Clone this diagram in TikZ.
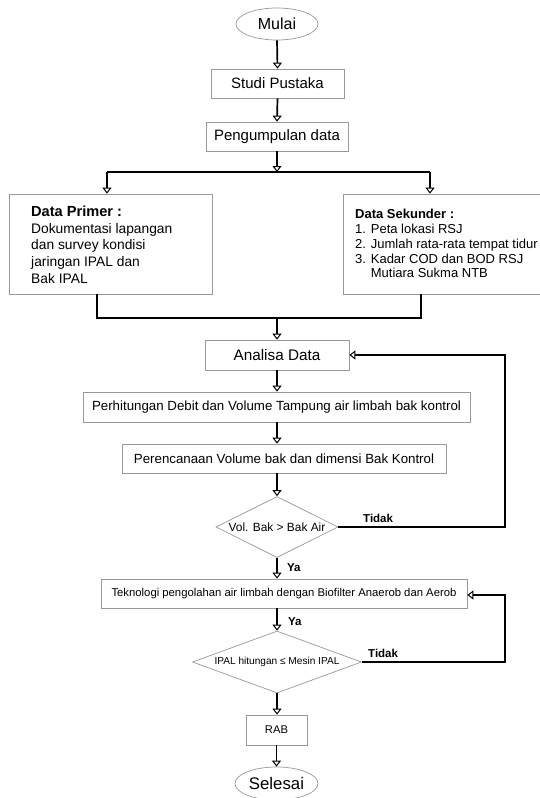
\documentclass[tikz,border=0pt]{standalone}
\usepackage{fontspec}
\setmainfont{Liberation Sans}
\usetikzlibrary{arrows.meta,shapes.geometric}
\begin{document}
\begin{tikzpicture}[x=1pt,y=-1pt,
  box/.style={draw=black!40, line width=0.7pt, rectangle, inner sep=0pt, align=center},
  oval/.style={draw=black!40, line width=0.7pt, ellipse, inner sep=0pt},
  dia/.style={draw=black!40, line width=0.7pt, diamond, inner sep=0pt},
  flow/.style={line width=1.7pt, -{Triangle[open,width=9pt,length=6pt,line width=1pt]}},
  conn/.style={line width=1.7pt},
  lbl/.style={font=\bfseries\fontsize{11.5}{13}\selectfont, inner sep=0pt}]
\useasboundingbox (0,0) rectangle (540,798);

\node[oval, minimum width=82pt, minimum height=32pt, font=\fontsize{16}{18}\selectfont] (mulai) at (277,24) {Mulai};
\node[box, minimum width=133pt, minimum height=29pt, font=\fontsize{15}{18}\selectfont] (studi) at (277.5,83.5) {Studi Pustaka};
\node[box, minimum width=142pt, minimum height=29pt, font=\fontsize{15}{18}\selectfont] (kumpul) at (277,136.5) {Pengumpulan data};

\coordinate (split) at (277,172);
\coordinate (splitL) at (107,172);
\coordinate (splitR) at (430,172);

\node[box, minimum width=203pt, minimum height=100pt] (primer) at (110.5,244) {};
\node[anchor=north west, inner sep=0pt, align=left, font=\fontsize{13.8}{16.6}\selectfont] (primertxt) at (31,206)
  {{\bfseries\fontsize{14.6}{16.6}\selectfont Data Primer :}\\Dokumentasi lapangan\\dan survey kondisi\\jaringan IPAL dan\\Bak IPAL};
\node[box, minimum width=217pt, minimum height=100pt] (sekunder) at (451.5,244) {};
\node[anchor=north west, inner sep=0pt, align=left, font=\fontsize{13}{14.8}\selectfont] (sekundertxt) at (355,209)
  {\textbf{Data Sekunder :}\\1. Peta lokasi RSJ\\2. Jumlah rata-rata tempat tidur\\3. Kadar COD dan BOD RSJ\\\phantom{3. }Mutiara Sukma NTB};

\coordinate (mergeL) at (97,318);
\coordinate (mergeR) at (421,318);
\coordinate (merge) at (277,318);

\node[box, minimum width=144pt, minimum height=30pt, font=\fontsize{15.3}{18}\selectfont] (analisa) at (277,355) {Analisa Data};
\node[box, minimum width=387pt, minimum height=30pt, font=\fontsize{13.3}{16}\selectfont] (hitung) at (276.5,407) {Perhitungan Debit dan Volume Tampung air limbah bak kontrol};
\node[box, minimum width=324pt, minimum height=29pt, font=\fontsize{13.3}{16}\selectfont] (rencana) at (284,458.5) {Perencanaan Volume bak dan dimensi Bak Kontrol};
\node[dia, minimum width=122pt, minimum height=61pt, aspect=2, font=\fontsize{11.9}{14}\selectfont] (cek1) at (277,527) {Vol. Bak > Bak Air};
\node[box, minimum width=366pt, minimum height=29pt, font=\fontsize{11.3}{14}\selectfont] (tekno) at (284,593.5) {Teknologi pengolahan air limbah dengan Biofilter Anaerob dan Aerob};
\node[dia, minimum width=169pt, minimum height=62pt, aspect=2.7, font=\fontsize{10.1}{12}\selectfont] (cek2) at (277,662) {IPAL hitungan ≤ Mesin IPAL};
\node[box, minimum width=61pt, minimum height=30pt, font=\fontsize{11.2}{13}\selectfont] (rab) at (276.5,730) {RAB};
\node[oval, minimum width=83pt, minimum height=33pt, font=\fontsize{16.8}{19}\selectfont] (selesai) at (276.5,783.5) {Selesai};

\coordinate (fb1) at (505,355);
\coordinate (fb2) at (505,595);

% connectors
\draw[flow] (mulai.south) -- (studi.north);
\draw[flow] (studi.south) -- (kumpul.north);
\draw[flow] (kumpul.south) -- (split);
\draw[conn] (splitL) -- (splitR);
\draw[flow] (splitL) -- (splitL |- primer.north);
\draw[flow] (splitR) -- (splitR |- sekunder.north);
\draw[conn] (mergeL |- primer.south) -- (mergeL) -- (mergeR) -- (mergeR |- sekunder.south);
\draw[flow] (merge) -- (analisa.north);
\draw[flow] (analisa.south) -- (hitung.north -| analisa.south);
\draw[flow] (hitung.south -| analisa.south) -- (rencana.north -| analisa.south);
\draw[flow] (rencana.south -| cek1.north) -- (cek1.north);
\draw[flow] (cek1.south) -- (tekno.north -| cek1.south);
\draw[flow] (tekno.south -| cek2.north) -- (cek2.north);
\draw[flow] (cek2.south) -- (rab.north -| cek2.south);
\draw[flow] (rab.south -| selesai.north) -- (selesai.north);
\draw[flow] (cek1.east) -- (fb1 |- cek1.east) -- (fb1) -- (analisa.east);
\draw[flow] (cek2.east) -- (fb2 |- cek2.east) -- (fb2) -- (fb2 -| tekno.east);

\node[lbl, anchor=base west] (tidak1) at (363,522) {Tidak};
\node[lbl, anchor=base west] (tidak2) at (368,657) {Tidak};
\node[lbl, anchor=base west] (ya1) at (287,571) {Ya};
\node[lbl, anchor=base west] (ya2) at (288,625) {Ya};
\end{tikzpicture}
\end{document}
